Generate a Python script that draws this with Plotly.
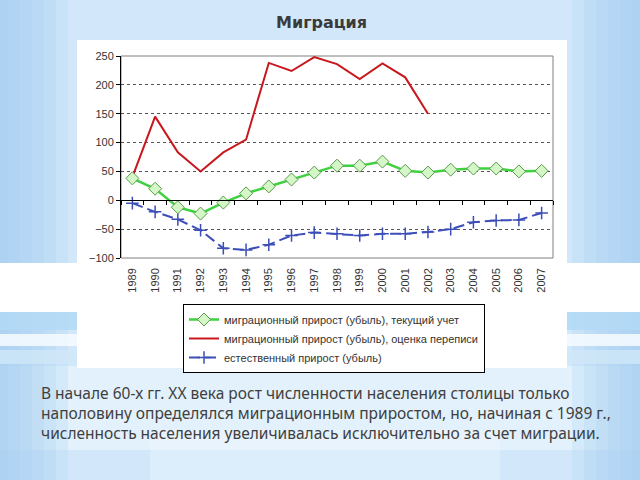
import plotly.graph_objects as go

years = [str(y) for y in range(1989, 2008)]

# миграционный прирост (убыль), текущий учет
migr_current = [38, 20, -12, -23, -4, 12, 24, 36, 48, 60, 60, 67, 51, 48, 53, 55, 55, 50, 51]
# миграционный прирост (убыль), оценка переписи (1989-2002)
migr_census = [40, 145, 83, 50, 83, 105, 238, 224, 248, 236, 210, 237, 213, 150]
# естественный прирост (убыль)
natural = [-5, -20, -33, -52, -83, -86, -77, -61, -56, -58, -61, -58, -58, -55, -50, -38, -35, -34, -22]

y_ticks = [-100, -50, 0, 50, 100, 150, 200, 250]

title_text = "Миграция"
body_text = ("В начале 60-х гг. XX века рост численности населения столицы только<br>"
             "наполовину определялся миграционным приростом, но, начиная с 1989 г.,<br>"
             "численность населения увеличивалась исключительно за счет миграции.")

# plot area in pixels (used to place the slide decoration)
L, T, W, H = 121, 56, 432, 202


def px_x(x):
    return (x - L) / W


def px_y(y):
    return (T + H - y) / H


fig = go.Figure()

fig.add_trace(go.Scatter(
    x=years, y=migr_current, xaxis="x2", mode="lines+markers",
    name="миграционный прирост (убыль), текущий учет",
    line=dict(color="#3fd13f", width=2.5),
    marker=dict(symbol="diamond", size=10, color="#d4f7c8",
                line=dict(color="#5a9a4a", width=1)),
))
fig.add_trace(go.Scatter(
    x=years[:len(migr_census)], y=migr_census, mode="lines",
    name="миграционный прирост (убыль), оценка переписи",
    line=dict(color="#c8181e", width=2),
))
fig.add_trace(go.Scatter(
    x=years, y=natural, mode="lines+markers",
    name="естественный прирост (убыль)",
    line=dict(color="#3c4fb8", width=2, dash="11px,5px"),
    marker=dict(symbol="cross-thin", size=9, line=dict(color="#3c4fb8", width=1.5)),
))


def band(x0, y0, x1, y1, color, opacity=1.0):
    fig.add_shape(type="rect", xref="paper", yref="paper",
                  x0=px_x(x0), x1=px_x(x1), y0=px_y(y1), y1=px_y(y0),
                  fillcolor=color, line_width=0, layer="below", opacity=opacity)


# slide background: blue edges, whiter middle, a few horizontal streaks
band(0, 366, 640, 450, "#eef7fe", 0.55)
band(150, 430, 500, 480, "#f4faff", 0.3)
for i in range(6):
    band(0, 0, 8 + i * 12, 480, "#a3cff2", 0.22)
    band(632 - i * 12, 0, 640, 480, "#a3cff2", 0.22)
band(0, 263, 640, 312, "#ffffff")
band(0, 312, 640, 330, "#b3d9f5", 0.85)
band(0, 334, 640, 346, "#f4faff", 0.9)
band(0, 350, 640, 364, "#cfe7f8", 0.8)
# white chart panel
band(77, 40, 567, 368, "#ffffff")
# plot area frame
fig.add_shape(type="rect", xref="paper", yref="paper", x0=0, x1=1, y0=0, y1=1,
              line=dict(color="#808080", width=1), layer="below")

fig.add_annotation(text=title_text, xref="paper", yref="paper", x=px_x(321), y=px_y(22),
                   yanchor="middle", showarrow=False,
                   font=dict(family="DejaVu Sans", size=16, color="#3a3a3a", weight="bold"))
fig.add_annotation(text=body_text, xref="paper", yref="paper", x=px_x(39), y=px_y(380),
                   xanchor="left", yanchor="top", align="left", showarrow=False,
                   font=dict(family="Noto Sans", size=15.5, color="#404040"))

axis_font = dict(family="Liberation Sans", size=11, color="#333")

fig.update_layout(
    width=640, height=480,
    margin=dict(l=L, r=640 - L - W, t=T, b=480 - T - H, autoexpand=False),
    paper_bgcolor="#d2e8fa", plot_bgcolor="rgba(0,0,0,0)",
    showlegend=True,
    legend=dict(xref="container", yref="container", x=183 / 640, y=1 - 304 / 480,
                xanchor="left", yanchor="top", bgcolor="white",
                bordercolor="black", borderwidth=1, tracegroupgap=0, itemwidth=30,
                font=dict(family="Liberation Sans", size=11, color="#333")),
    xaxis=dict(type="category", categoryorder="array", categoryarray=years,
               range=[-0.5, 18.5], tickangle=-90, tickfont=axis_font,
               ticklabelstandoff=7,
               showgrid=False, showline=False, ticks="", zeroline=False),
    xaxis2=dict(type="category", categoryorder="array", categoryarray=years,
                matches="x", overlaying="x", anchor="free", position=100 / 350,
                showticklabels=False, showgrid=False, showline=True, linecolor="black",
                linewidth=1, ticks="outside", ticklen=4, tickcolor="black",
                tickson="boundaries", zeroline=False),
    yaxis=dict(range=[-100, 250], tickvals=y_ticks, tickfont=axis_font,
               showgrid=True, gridcolor="#555", griddash="dot", gridwidth=1,
               zeroline=False, showline=True, linecolor="black", linewidth=1,
               ticks="outside", ticklen=4, tickcolor="black"),
)

fig.write_html("out.html", config={"displayModeBar": False},
               post_script="document.body.style.margin='0';")
